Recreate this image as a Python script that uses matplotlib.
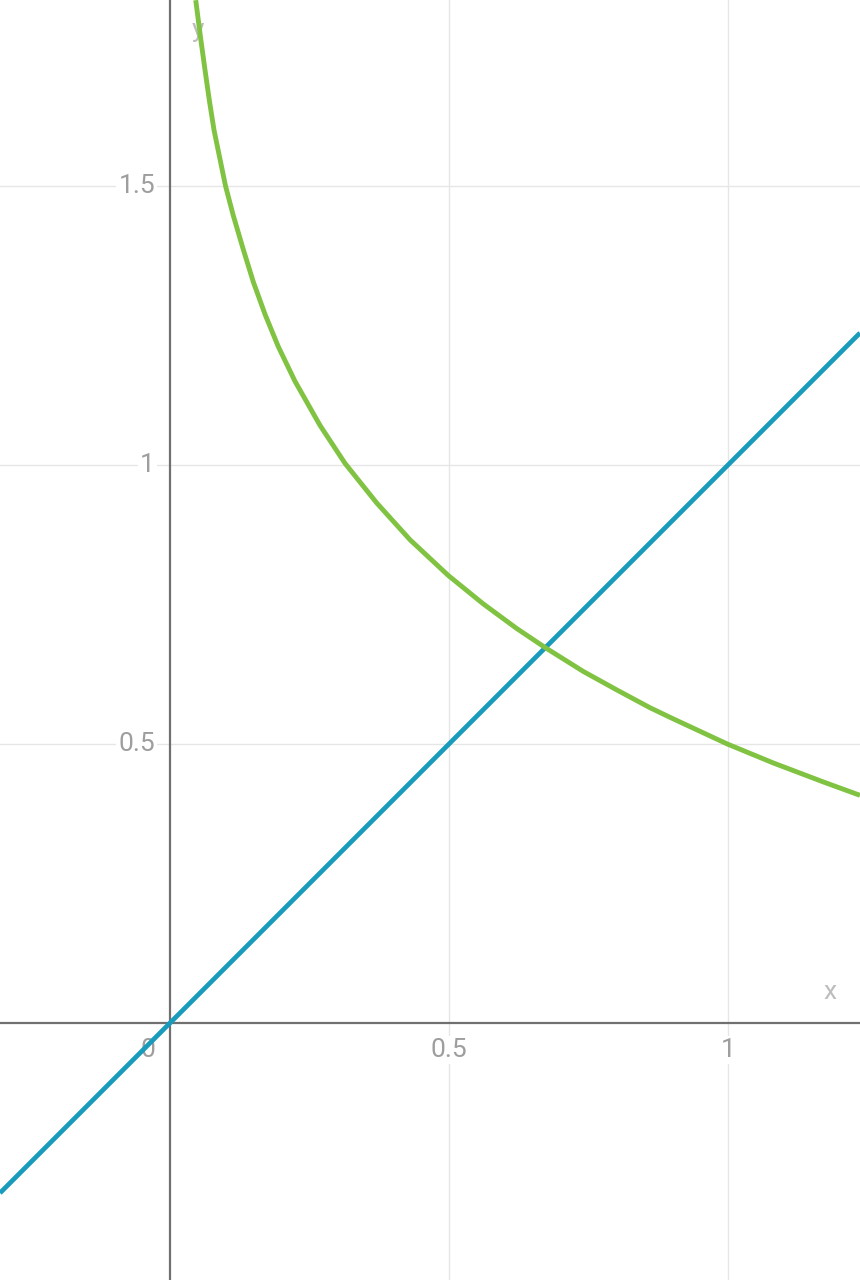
import matplotlib
matplotlib.use("Agg")
import matplotlib.pyplot as plt

plt.rcParams['font.family'] = ['Roboto', 'DejaVu Sans']

# Data
curve_x = [0.0461, 0.0550, 0.0627, 0.0704, 0.0789, 0.0896, 0.0995, 0.1134, 0.1314,
           0.1493, 0.1703, 0.1941, 0.2240, 0.2688, 0.3136, 0.3704, 0.4301, 0.4987,
           0.5615, 0.6213, 0.6720, 0.7407, 0.8005, 0.8602, 0.9020, 0.9987, 1.0812,
           1.1708, 1.2366]
curve_y = [1.833, 1.764, 1.708, 1.654, 1.600, 1.548, 1.500, 1.447, 1.386,
           1.328, 1.270, 1.212, 1.150, 1.071, 1.003, 0.932, 0.866, 0.802,
           0.751, 0.707, 0.673, 0.630, 0.597, 0.565, 0.545, 0.500, 0.466,
           0.432, 0.408]
line_x = [-0.3047, 1.2366]
line_y = [-0.3047, 1.2366]

x_ticks = [0.5, 1]
x_tick_labels = ["0.5", "1"]
y_ticks = [0.5, 1, 1.5]
y_tick_labels = ["0.5", "1", "1.5"]

XMIN, XMAX = -0.3047, 1.2366
YMIN, YMAX = -0.4606, 1.8333

fig = plt.figure(figsize=(8.6, 12.8), dpi=100)
ax = fig.add_axes([0, 0, 1, 1])
ax.set_xlim(XMIN, XMAX)
ax.set_ylim(YMIN, YMAX)
ax.axis('off')

grid_c = '#e6e6e6'
for xv in x_ticks:
    ax.axvline(xv, color=grid_c, lw=1.0, zorder=1)
for yv in y_ticks:
    ax.axhline(yv, color=grid_c, lw=1.0, zorder=1)

ax.axhline(0, color='#707070', lw=1.6, zorder=2)
ax.axvline(0, color='#707070', lw=1.6, zorder=2)

lab_c = '#9e9e9e'
fs = 19
bb = dict(facecolor='white', edgecolor='none', pad=1.5)
for xv, lab in zip(x_ticks, x_tick_labels):
    ax.text(xv, -0.048, lab, ha='center', va='center', color=lab_c, fontsize=fs,
            bbox=bb, zorder=3)
for yv, lab in zip(y_ticks, y_tick_labels):
    ax.text(-0.027, yv, lab, ha='right', va='center', color=lab_c, fontsize=fs,
            bbox=bb, zorder=3)
ax.text(-0.04, -0.048, "0", ha='center', va='center', color=lab_c, fontsize=fs, zorder=3)

ax.text(1.182, 0.055, "x", ha='center', va='center', color='#bdbdbd', fontsize=fs, zorder=3)
ax.text(0.05, 1.78, "y", ha='center', va='center', color='#bdbdbd', fontsize=fs, zorder=3)

ax.plot(line_x, line_y, color='#1a9bbc', lw=3.4, zorder=5, solid_capstyle='butt')
ax.plot(curve_x, curve_y, color='#80c342', lw=3.5, zorder=6,
        solid_joinstyle='round', solid_capstyle='butt')

fig.savefig('out.png', dpi=100)
